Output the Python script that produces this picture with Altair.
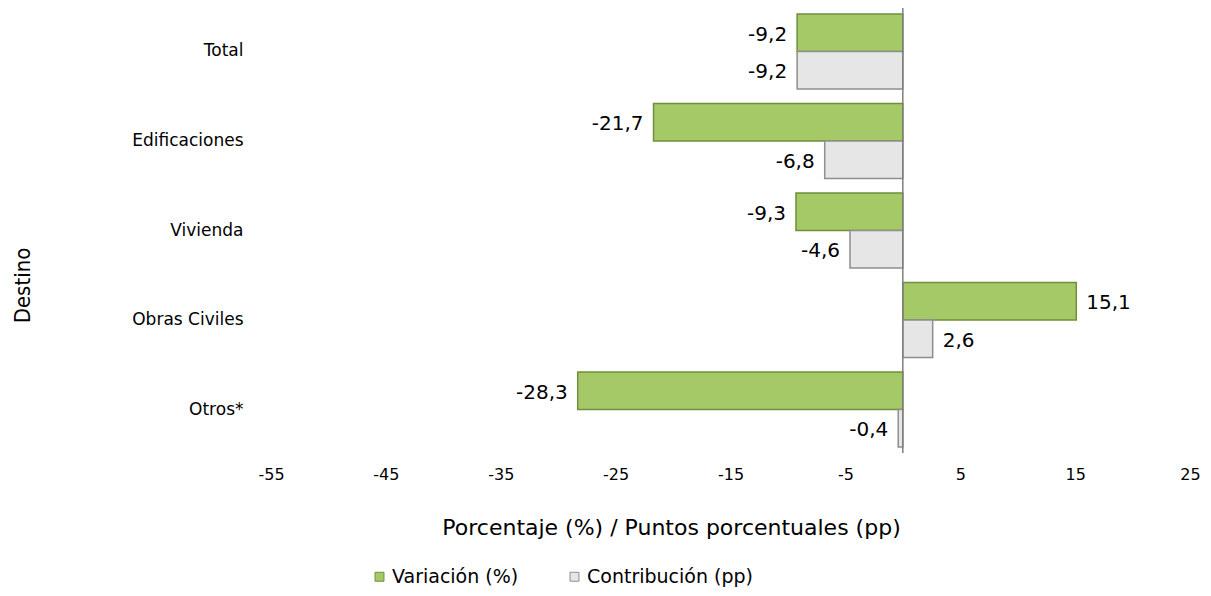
import altair as alt
import pandas as pd

categories = ["Total", "Edificaciones", "Vivienda", "Obras Civiles", "Otros*"]
variacion = [-9.2, -21.7, -9.3, 15.1, -28.3]
contribucion = [-9.2, -6.8, -4.6, 2.6, -0.4]
series = ["Variación (%)", "Contribución (pp)"]
x_ticks = [-55, -45, -35, -25, -15, -5, 5, 15, 25]
zero_line = [0]

rows = []
for c, v, p in zip(categories, variacion, contribucion):
    for s, val in zip(series, [v, p]):
        rows.append({"Destino": c, "Serie": s, "Valor": val,
                     "Etiqueta": f"{val:.1f}".replace(".", ",")})
df = pd.DataFrame(rows)

GREEN = "#a6c968"
GREEN_D = "#6f8f3a"
GRAY = "#e6e6e6"
GRAY_D = "#8e8e8e"
FONT = "DejaVu Sans"
NARROW = "Liberation Sans Narrow, DejaVu Sans Condensed, Roboto Condensed, Liberation Sans, sans-serif"

W, H = 919, 445

y_enc = alt.Y(
    "Destino:N", sort=categories,
    scale=alt.Scale(paddingInner=0.162, paddingOuter=0.067),
    axis=alt.Axis(
        title="Destino", labelFontSize=17, labelFont=FONT, labelPadding=28,
        labelColor="#000", domain=False, ticks=False,
        titleFont=NARROW, titleFontSize=22, titleFontWeight="normal",
        titleX=-249, titleY=277, titleAngle=270, titleBaseline="middle",
        titleAlign="center", titleColor="#000",
    ),
)
x_enc = alt.X(
    "Valor:Q",
    scale=alt.Scale(domain=[-55, 25], nice=False, zero=False),
    axis=alt.Axis(
        values=x_ticks, labelExpr="datum.value + ''", grid=False, domain=False,
        ticks=False, labelFontSize=16, labelFont=FONT, labelColor="#000",
        labelPadding=13, labelBaseline="top", labelFlush=False, labelOverlap=False,
        title="Porcentaje (%) / Puntos porcentuales (pp)", titleFont=FONT,
        titleFontSize=22, titleFontWeight="normal", titleColor="#000",
        titleX=400, titleY=74, titleBaseline="middle", titleAlign="center",
    ),
)

base = alt.Chart(df)

bars = base.mark_bar(strokeWidth=1.5).encode(
    x=x_enc,
    y=y_enc,
    yOffset=alt.YOffset("Serie:N", sort=series),
    color=alt.Color(
        "Serie:N",
        scale=alt.Scale(domain=series, range=[GREEN, GRAY]),
        legend=alt.Legend(
            title=None, orient="none", legendX=99, legendY=559,
            direction="horizontal", symbolType="square", symbolSize=80,
            labelFontSize=19, labelFont=FONT, labelColor="#000", labelLimit=0,
            labelOffset=3, columnPadding=46,
            symbolStrokeColor="#777", symbolStrokeWidth=1,
        ),
    ),
    stroke=alt.Stroke("Serie:N", scale=alt.Scale(domain=series, range=[GREEN_D, GRAY_D]), legend=None),
)

neg_text = base.transform_filter("datum.Valor < 0").mark_text(
    align="right", baseline="middle", dx=-10, dy=2, fontSize=20, font=FONT, color="#000"
).encode(
    x="Valor:Q",
    y=alt.Y("Destino:N", sort=categories),
    yOffset=alt.YOffset("Serie:N", sort=series),
    text="Etiqueta:N",
)
pos_text = base.transform_filter("datum.Valor >= 0").mark_text(
    align="left", baseline="middle", dx=10, dy=2, fontSize=20, font=FONT, color="#000"
).encode(
    x="Valor:Q",
    y=alt.Y("Destino:N", sort=categories),
    yOffset=alt.YOffset("Serie:N", sort=series),
    text="Etiqueta:N",
)

rule = alt.Chart(pd.DataFrame({"x": zero_line})).mark_rule(
    color="#7f7f7f", strokeWidth=1.5
).encode(x="x:Q")

chart = alt.layer(bars, rule, neg_text, pos_text).properties(
    width=W, height=H,
    autosize=alt.AutoSizeParams(type="none"),
    padding={"left": 263, "top": 0, "right": 12, "bottom": 135},
).configure_view(stroke=None)

chart.save("out.html", embed_options={"renderer": "svg", "actions": False})
